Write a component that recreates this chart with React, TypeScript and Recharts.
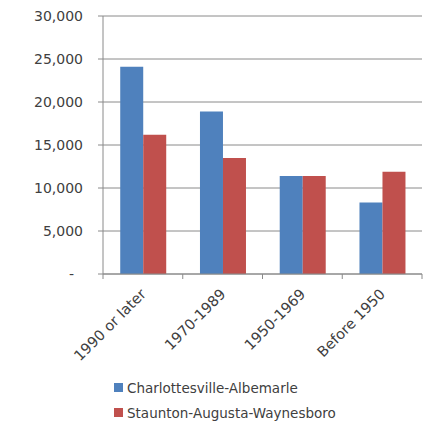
import { BarChart, Bar, XAxis, YAxis, CartesianGrid } from 'recharts'

const CATEGORIES = ['1990 or later', '1970-1989', '1950-1969', 'Before 1950']
const CHARLOTTESVILLE = [24100, 18900, 11400, 8300]
const STAUNTON = [16200, 13500, 11400, 11900]
const Y_TICKS = [0, 5000, 10000, 15000, 20000, 25000, 30000]
const SERIES = [
  { key: 'cha', name: 'Charlottesville-Albemarle', color: '#4F81BD' },
  { key: 'sta', name: 'Staunton-Augusta-Waynesboro', color: '#C0504D' },
]

const DATA = CATEGORIES.map((cat, i) => ({ cat, cha: CHARLOTTESVILLE[i], sta: STAUNTON[i] }))

const FONT = '"DejaVu Sans", sans-serif'
const GREY = '#8a8a8a'
const TEXT = '#404040'

const fmtY = (v: number) => (v === 0 ? '-\u00a0\u00a0' : v.toLocaleString('en-US'))

// category label rotated, plus tick marks at the band edges (Excel style)
const CategoryTick = (props: any) => {
  const { x, y, payload, index, width, visibleTicksCount } = props
  const band = width / visibleTicksCount
  const tx = x + 4
  const ty = y + 21
  return (
    <g>
      <line x1={x - band / 2} x2={x - band / 2} y1={y} y2={y + 5} stroke={GREY} />
      {index === visibleTicksCount - 1 && (
        <line x1={x + band / 2} x2={x + band / 2} y1={y} y2={y + 5} stroke={GREY} />
      )}
      <text
        x={tx}
        y={ty}
        transform={`rotate(-45, ${tx}, ${ty})`}
        textAnchor="end"
        fontFamily={FONT}
        fontSize={14.5}
        fill={TEXT}
      >
        {payload.value}
      </text>
    </g>
  )
}

export default function App() {
  return (
    <div style={{ position: 'absolute', left: 0, top: 0, width: 441, height: 421, background: '#fff' }}>
      <BarChart
        width={441}
        height={421}
        data={DATA}
        margin={{ top: 16, right: 19, left: 0, bottom: 0 }}
        barCategoryGap="21.6%"
        barGap={0}
      >
        <CartesianGrid vertical={false} stroke={GREY} strokeWidth={1} />
        <XAxis
          dataKey="cat"
          height={147}
          interval={0}
          tickSize={0}
          tickMargin={0}
          tickLine={false}
          axisLine={{ stroke: GREY }}
          tick={<CategoryTick />}
        />
        <YAxis
          width={103}
          domain={[0, 30000]}
          ticks={Y_TICKS}
          tickFormatter={fmtY}
          tickSize={5}
          tickMargin={15}
          axisLine={{ stroke: GREY }}
          tickLine={{ stroke: GREY }}
          tick={{ fontFamily: FONT, fontSize: 14, fill: TEXT }}
        />
        {SERIES.map((s) => (
          <Bar key={s.key} dataKey={s.key} name={s.name} fill={s.color} isAnimationActive={false} />
        ))}
      </BarChart>
      <div style={{ position: 'absolute', left: 114, top: 375, fontFamily: FONT, fontSize: 13.5, color: TEXT }}>
        {SERIES.map((s) => (
          <div key={s.key} style={{ display: 'flex', alignItems: 'center', height: 25 }}>
            <span style={{ display: 'inline-block', width: 9, height: 9, background: s.color, marginRight: 4 }} />
            {s.name}
          </div>
        ))}
      </div>
    </div>
  )
}
